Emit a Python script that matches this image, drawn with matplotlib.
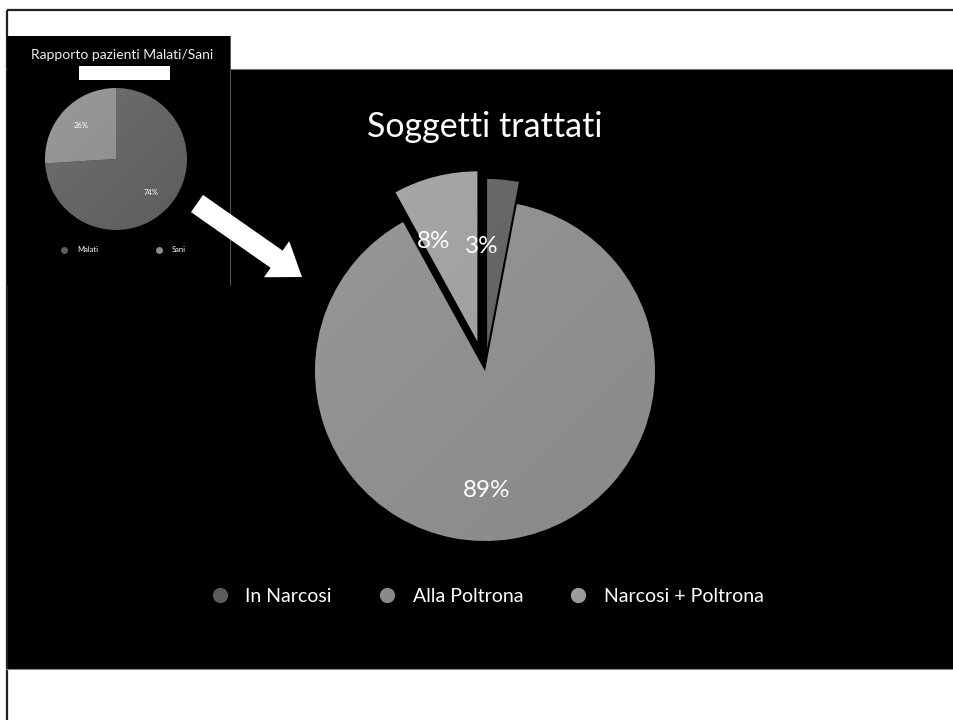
import matplotlib
matplotlib.use("Agg")
import numpy as np
import matplotlib.pyplot as plt
from matplotlib.patches import Rectangle, FancyArrow
from matplotlib.lines import Line2D
from matplotlib.transforms import ScaledTranslation

# ---- data -------------------------------------------------------------
title_main = "Soggetti trattati"
main_labels = ["In Narcosi", "Alla Poltrona", "Narcosi + Poltrona"]
main_values = [3, 89, 8]

title_inset = "Rapporto pazienti Malati/Sani"
inset_labels = ["Malati", "Sani"]
inset_values = [74, 26]

# ---- style ------------------------------------------------------------
FONT = ["Lato", "DejaVu Sans"]
main_colors = ["#5b5b5b", "#8a8a8a", "#9c9c9c"]
main_explode = [0.13, 0.0, 0.18]
inset_colors = ["#5e5e5e", "#8c8c8c"]

W, H = 954, 720
fig = plt.figure(figsize=(W / 100, H / 100), dpi=100, facecolor="white")

# background canvas in pixel units
bg = fig.add_axes([0, 0, 1, 1])
bg.set_xlim(0, W)
bg.set_ylim(H, 0)
bg.axis("off")

# slide frame
bg.plot([7, W], [10, 10], color="#222222", lw=1.6, solid_capstyle="butt")
bg.plot([7, 7], [10, H], color="#222222", lw=1.6, solid_capstyle="butt")

# main black slide area
bg.add_patch(Rectangle((6, 69), W - 6, 600, facecolor="black", edgecolor="none"))
bg.plot([6, W], [69, 69], color="#777777", lw=0.8)
bg.plot([6, W], [669, 669], color="#888888", lw=0.8)

# inset panel
bg.add_patch(Rectangle((7, 36), 223, 249, facecolor="black", edgecolor="none", zorder=2))
bg.plot([230, 230], [36, 285], color="#555555", lw=0.7, zorder=3)
bg.add_patch(Rectangle((79, 66), 91, 14, facecolor="white", edgecolor="none", zorder=3))

# arrow
bg.add_patch(FancyArrow(197, 203.5, 105, 73.5, width=21, head_width=44,
                        head_length=31, length_includes_head=True,
                        facecolor="white", edgecolor="none", zorder=4))

# titles
bg.text(485, 127, title_main, color="white", fontsize=24.5, family=FONT,
        ha="center", va="center", zorder=5)
bg.text(122, 55, title_inset, color="#eeeeee", fontsize=10, family=FONT,
        ha="center", va="center", zorder=5)


def shade(axis, wedges, lim):
    """Soft light-from-top-left sheen clipped to each wedge."""
    n = 256
    yy, xx = np.mgrid[0:n, 0:n] / (n - 1)
    t = np.clip((xx + yy) / 2.0, 0, 1)
    img = np.zeros((n, n, 4))
    img[..., :3] = 1.0
    img[..., 3] = 0.14 * (1 - t) ** 1.5
    for w in wedges:
        im = axis.imshow(img, extent=(-lim, lim, -lim, lim), origin="upper",
                         zorder=w.get_zorder() + 0.5, interpolation="bilinear")
        im.set_clip_path(w)


# ---- main pie ---------------------------------------------------------
R_MAIN = 170.0
HALF = 210.0
cx, cy = 485, 371
ax = fig.add_axes([(cx - HALF) / W, (H - cy - HALF) / H, 2 * HALF / W, 2 * HALF / H])
ax.set_facecolor("none")
wedges, _, autotexts = ax.pie(
    main_values, colors=main_colors, explode=main_explode, startangle=90,
    counterclock=False, autopct=lambda p: f"{p:.0f}%", pctdistance=0.66,
    wedgeprops=dict(linewidth=0),
    textprops=dict(color="white", fontsize=17.5, family=FONT, zorder=10))
# percentage labels sit a little down-left of the wedge bisectors
nudge = ScaledTranslation(-16 / 100, -9 / 100, fig.dpi_scale_trans)
for t in autotexts:
    t.set_transform(t.get_transform() + nudge)
lim = HALF / R_MAIN
shade(ax, wedges, lim)
ax.set_xlim(-lim, lim)
ax.set_ylim(-lim, lim)
ax.set_aspect("equal")
ax.axis("off")

handles = [Line2D([], [], marker="o", linestyle="none", markersize=11,
                  markerfacecolor=c, markeredgecolor="none") for c in main_colors]
bg.legend(handles, main_labels, loc="center", bbox_to_anchor=(487 / W, 1 - 596 / H),
          bbox_transform=fig.transFigure, ncol=3, frameon=False,
          labelcolor="white", prop=dict(family=FONT, size=14),
          handletextpad=0.8, columnspacing=2.35, handlelength=1.0)

# ---- inset pie --------------------------------------------------------
R_IN = 71.0
HALF_IN = 85.0
ix, iy = 116, 159
ax2 = fig.add_axes([(ix - HALF_IN) / W, (H - iy - HALF_IN) / H,
                    2 * HALF_IN / W, 2 * HALF_IN / H])
ax2.set_facecolor("none")
w2, _, _ = ax2.pie(inset_values, colors=inset_colors, startangle=90, counterclock=False,
                   autopct=lambda p: f"{p:.0f}%", pctdistance=0.68,
                   wedgeprops=dict(linewidth=0),
                   textprops=dict(color="white", fontsize=5.5, family=FONT, zorder=10))
lim2 = HALF_IN / R_IN
shade(ax2, w2, lim2)
ax2.set_xlim(-lim2, lim2)
ax2.set_ylim(-lim2, lim2)
ax2.set_aspect("equal")
ax2.axis("off")

small_handles = [Line2D([], [], marker="o", linestyle="none", markersize=5,
                        markerfacecolor=c, markeredgecolor="none") for c in inset_colors]
ax2.legend(small_handles, inset_labels, loc="center",
           bbox_to_anchor=(123 / W, 1 - 250 / H), bbox_transform=fig.transFigure,
           ncol=2, frameon=False, labelcolor="white",
           prop=dict(family=FONT, size=5.5), handletextpad=1.2,
           columnspacing=7.5, handlelength=1.0)

fig.savefig("out.png", dpi=100, facecolor="white")
